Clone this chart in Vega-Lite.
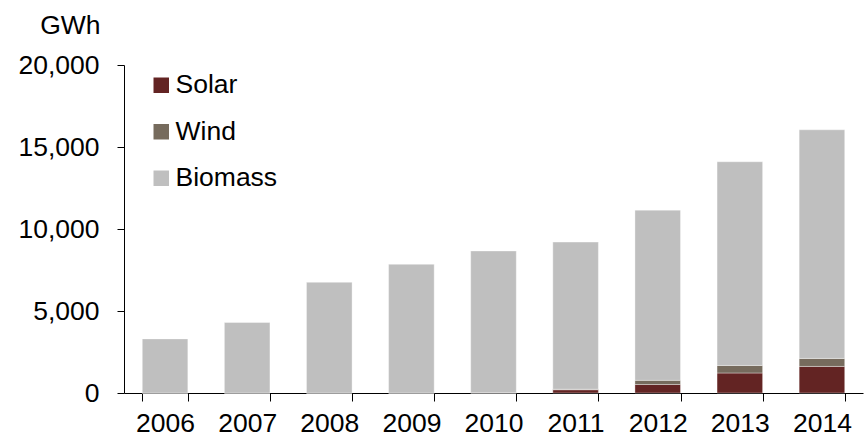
{
  "$schema": "https://vega.github.io/schema/vega-lite/v6.json",
  "width": 739,
  "height": 328,
  "autosize": {"type": "none"},
  "padding": {"left": 124, "top": 65, "right": 3, "bottom": 45},
  "background": "white",
  "config": {
    "font": "Liberation Sans",
    "view": {"stroke": null},
    "axis": {"labelFont": "Liberation Sans", "labelFontSize": 26.5, "labelColor": "#000", "domainColor": "#000", "tickColor": "#000", "grid": false}
  },
  "data": {
    "values": [
      {"year": "2006", "source": "Solar", "ord": 1, "gwh": 0},
      {"year": "2006", "source": "Wind", "ord": 2, "gwh": 0},
      {"year": "2006", "source": "Biomass", "ord": 3, "gwh": 3300},
      {"year": "2007", "source": "Solar", "ord": 1, "gwh": 0},
      {"year": "2007", "source": "Wind", "ord": 2, "gwh": 0},
      {"year": "2007", "source": "Biomass", "ord": 3, "gwh": 4300},
      {"year": "2008", "source": "Solar", "ord": 1, "gwh": 0},
      {"year": "2008", "source": "Wind", "ord": 2, "gwh": 0},
      {"year": "2008", "source": "Biomass", "ord": 3, "gwh": 6750},
      {"year": "2009", "source": "Solar", "ord": 1, "gwh": 0},
      {"year": "2009", "source": "Wind", "ord": 2, "gwh": 0},
      {"year": "2009", "source": "Biomass", "ord": 3, "gwh": 7850},
      {"year": "2010", "source": "Solar", "ord": 1, "gwh": 10},
      {"year": "2010", "source": "Wind", "ord": 2, "gwh": 0},
      {"year": "2010", "source": "Biomass", "ord": 3, "gwh": 8650},
      {"year": "2011", "source": "Solar", "ord": 1, "gwh": 200},
      {"year": "2011", "source": "Wind", "ord": 2, "gwh": 30},
      {"year": "2011", "source": "Biomass", "ord": 3, "gwh": 8970},
      {"year": "2012", "source": "Solar", "ord": 1, "gwh": 520},
      {"year": "2012", "source": "Wind", "ord": 2, "gwh": 250},
      {"year": "2012", "source": "Biomass", "ord": 3, "gwh": 10380},
      {"year": "2013", "source": "Solar", "ord": 1, "gwh": 1220},
      {"year": "2013", "source": "Wind", "ord": 2, "gwh": 460},
      {"year": "2013", "source": "Biomass", "ord": 3, "gwh": 12420},
      {"year": "2014", "source": "Solar", "ord": 1, "gwh": 1620},
      {"year": "2014", "source": "Wind", "ord": 2, "gwh": 490},
      {"year": "2014", "source": "Biomass", "ord": 3, "gwh": 13940}
    ]
  },
  "mark": {"type": "bar", "stroke": "#ffffff", "strokeWidth": 0.6, "strokeOpacity": 0.6},
  "encoding": {
    "x": {
      "field": "year",
      "type": "nominal",
      "scale": {"paddingInner": 0.445, "paddingOuter": 0.2225},
      "axis": {
        "title": null,
        "labelAngle": 0,
        "tickBand": "extent",
        "tickSize": 8,
        "labelPadding": 9,
        "domainWidth": 1
      }
    },
    "y": {
      "field": "gwh",
      "type": "quantitative",
      "stack": "zero",
      "scale": {"domain": [0, 20000], "nice": false},
      "axis": {
        "values": [0, 5000, 10000, 15000, 20000],
        "format": ",d",
        "tickSize": 7,
        "labelPadding": 18,
        "title": "GWh",
        "titleFont": "Liberation Sans",
        "titleFontSize": 26.5,
        "titleFontWeight": "normal",
        "titleColor": "#000",
        "titleAngle": 0,
        "titleAlign": "right",
        "titleBaseline": "middle",
        "titleX": -24,
        "titleY": -40
      }
    },
    "color": {
      "field": "source",
      "type": "nominal",
      "scale": {"domain": ["Solar", "Wind", "Biomass"], "range": ["#632423", "#766b5d", "#bfbfbf"]},
      "legend": {
        "title": null,
        "orient": "none",
        "legendX": 24,
        "legendY": 7,
        "symbolType": "square",
        "symbolSize": 240,
        "symbolStrokeWidth": 0,
        "labelFont": "Liberation Sans",
        "labelFontSize": 26.5,
        "labelColor": "#000",
        "labelOffset": 1,
        "rowPadding": 19.5
      }
    },
    "order": {"field": "ord", "type": "quantitative"}
  }
}
